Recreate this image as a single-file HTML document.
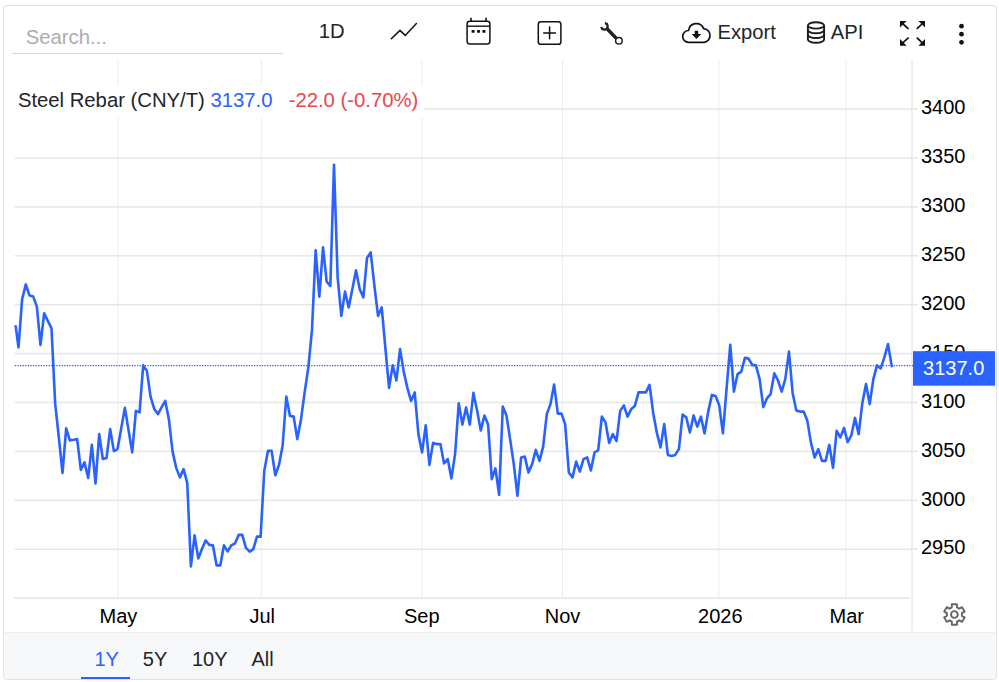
<!DOCTYPE html>
<html><head><meta charset="utf-8"><title>Steel Rebar</title>
<style>
html,body{margin:0;padding:0;background:#fff;}
body{width:999px;height:682px;position:relative;overflow:hidden;font-family:"Liberation Sans",sans-serif;font-size:20px;color:#212529;}
svg text{font-family:"Liberation Sans",sans-serif;}
.box{position:absolute;left:3px;top:5px;width:992px;height:673px;border:1px solid #dee2e6;border-radius:4px;background:#fff;}
.t{position:absolute;white-space:nowrap;line-height:1;}
.bar{position:absolute;left:4px;top:632px;width:992px;height:47px;background:#f7f8fa;border-top:1px solid #eceef1;box-sizing:border-box;border-radius:0 0 3px 3px;}
.ul{position:absolute;left:12px;top:53px;width:271px;height:1.3px;background:#d3d6d9;}
.ic{position:absolute;overflow:visible;}
</style></head><body>
<div class="box"></div>
<svg id="chart" width="999" height="682" viewBox="0 0 999 682" style="position:absolute;left:0;top:0">
<rect x="117.4" y="60" width="1" height="538" fill="#e9eef4"/>
<rect x="260.8" y="60" width="1" height="538" fill="#e9eef4"/>
<rect x="421.3" y="60" width="1" height="538" fill="#e9eef4"/>
<rect x="562.0" y="60" width="1" height="538" fill="#e9eef4"/>
<rect x="718.4" y="60" width="1" height="538" fill="#e9eef4"/>
<rect x="845.4" y="60" width="1" height="538" fill="#e9eef4"/>
<rect x="14.8" y="108.35" width="903.2" height="1.5" fill="#e6e6e6"/>
<rect x="14.8" y="157.25" width="903.2" height="1.5" fill="#e6e6e6"/>
<rect x="14.8" y="206.15" width="903.2" height="1.5" fill="#e6e6e6"/>
<rect x="14.8" y="255.05" width="903.2" height="1.5" fill="#e6e6e6"/>
<rect x="14.8" y="303.95" width="903.2" height="1.5" fill="#e6e6e6"/>
<rect x="14.8" y="352.85" width="903.2" height="1.5" fill="#e6e6e6"/>
<rect x="14.8" y="401.75" width="903.2" height="1.5" fill="#e6e6e6"/>
<rect x="14.8" y="450.65" width="903.2" height="1.5" fill="#e6e6e6"/>
<rect x="14.8" y="499.55" width="903.2" height="1.5" fill="#e6e6e6"/>
<rect x="14.8" y="548.45" width="903.2" height="1.5" fill="#e6e6e6"/>
<rect x="14" y="597.3" width="896.5" height="1.5" fill="#e4e4e4"/>
<rect x="911.4" y="60" width="1.3" height="571" fill="#e6e6e6"/>
<rect x="14" y="85" width="410" height="32.5" fill="#fff"/>
<line x1="14.8" y1="365.6" x2="913" y2="365.6" stroke="#2962ff" stroke-width="1.2" stroke-dasharray="1.3 1.3"/>
<polyline fill="none" stroke="#2962ff" stroke-width="2.6" stroke-linejoin="round" stroke-linecap="round" points="15.70,326.40 18.47,347.40 22.14,299.10 25.81,284.40 29.48,295.40 33.14,296.40 36.81,306.40 40.48,344.90 44.15,313.40 47.82,320.90 51.49,328.40 55.16,403.40 58.83,437.40 62.50,472.90 66.17,428.40 69.84,440.40 73.50,439.80 77.17,439.10 80.84,469.90 84.51,462.40 88.18,477.90 91.85,444.90 95.52,483.40 99.19,434.10 102.86,459.10 106.52,457.90 110.19,429.10 113.86,451.10 117.53,449.10 121.20,428.40 124.87,407.90 128.54,430.10 132.21,452.40 135.88,410.90 139.55,412.40 143.21,365.40 146.88,370.90 150.55,396.60 154.22,408.90 157.89,414.10 161.56,407.40 165.23,400.90 168.90,419.40 172.57,451.60 176.24,467.90 179.90,477.40 183.57,469.10 187.24,482.90 190.91,566.40 194.58,535.40 198.25,558.40 201.92,549.10 205.59,540.40 209.26,544.90 212.93,545.40 216.60,565.40 220.26,565.40 223.93,545.40 227.60,551.40 231.27,545.40 234.94,543.40 238.61,534.90 242.28,534.90 245.95,547.90 249.62,551.60 253.29,549.10 256.95,536.60 260.62,536.60 264.29,470.40 267.96,450.90 271.63,450.90 275.30,475.40 278.97,464.90 282.64,445.40 286.31,396.60 289.97,415.90 293.64,416.60 297.31,439.10 300.98,419.40 304.65,392.40 308.32,367.40 311.99,329.90 315.66,250.40 319.33,296.60 323.00,247.40 326.66,281.60 330.33,285.90 334.00,164.80 337.67,277.90 341.34,315.90 345.01,291.60 348.68,307.40 352.35,289.10 356.02,270.40 359.69,289.10 363.35,297.40 367.02,257.90 370.69,252.40 374.36,285.40 378.03,315.90 381.70,307.40 385.37,347.90 389.04,387.90 392.71,365.40 396.38,380.40 400.04,349.10 403.71,371.60 407.38,387.90 411.05,400.90 414.72,392.40 418.39,434.10 422.06,452.40 425.73,425.40 429.40,464.90 433.07,442.90 436.73,444.10 440.40,444.10 444.07,463.40 447.74,459.10 451.41,478.40 455.08,454.10 458.75,403.40 462.42,424.60 466.09,407.40 469.76,424.60 473.42,392.90 477.09,410.40 480.76,430.40 484.43,415.60 488.10,424.40 491.77,479.10 495.44,468.40 499.11,494.90 502.78,406.60 506.45,415.40 510.11,439.10 513.78,464.10 517.45,495.90 521.12,457.40 524.79,456.60 528.46,472.40 532.13,464.10 535.80,449.90 539.47,460.90 543.14,446.60 546.80,414.10 550.47,404.10 554.14,384.60 557.81,413.60 561.48,413.60 565.15,424.10 568.82,472.40 572.49,477.40 576.16,461.60 579.83,471.60 583.50,459.10 587.16,457.40 590.83,470.40 594.50,452.40 598.17,450.40 601.84,416.60 605.51,422.40 609.18,442.90 612.85,434.10 616.52,441.10 620.18,410.90 623.85,405.40 627.52,416.60 631.19,409.10 634.86,405.90 638.53,392.40 642.20,392.40 645.87,392.40 649.54,384.90 653.21,412.90 656.88,432.90 660.54,447.40 664.21,424.10 667.88,454.90 671.55,455.90 675.22,454.90 678.89,449.10 682.56,414.60 686.23,417.40 689.90,432.40 693.56,415.40 697.23,426.60 700.90,416.60 704.57,433.40 708.24,411.40 711.91,394.90 715.58,395.90 719.25,405.40 722.92,433.40 726.59,388.40 730.26,344.90 733.92,391.60 737.59,374.10 741.26,371.60 744.93,357.90 748.60,358.60 752.27,364.90 755.94,365.40 759.61,379.10 763.28,407.10 766.94,398.40 770.61,394.10 774.28,373.40 777.95,380.40 781.62,391.60 785.29,379.10 788.96,351.60 792.63,392.90 796.30,410.40 799.97,411.60 803.64,411.60 807.30,420.40 810.97,442.90 814.64,457.40 818.31,449.10 821.98,460.90 825.65,460.90 829.32,444.90 832.99,467.90 836.66,430.90 840.32,437.40 843.99,427.90 847.66,442.10 851.33,435.40 855.00,417.90 858.67,434.10 862.34,402.90 866.01,384.10 869.68,404.10 873.35,379.10 877.02,365.40 880.68,368.40 884.35,357.40 888.02,344.10 891.69,366.10"/>
<text x="921" y="114" font-size="20" fill="#000">3400</text>
<text x="921" y="163" font-size="20" fill="#000">3350</text>
<text x="921" y="212" font-size="20" fill="#000">3300</text>
<text x="921" y="261" font-size="20" fill="#000">3250</text>
<text x="921" y="310" font-size="20" fill="#000">3200</text>
<text x="921" y="359" font-size="20" fill="#000">3150</text>
<text x="921" y="408" font-size="20" fill="#000">3100</text>
<text x="921" y="457" font-size="20" fill="#000">3050</text>
<text x="921" y="506" font-size="20" fill="#000">3000</text>
<text x="921" y="554" font-size="20" fill="#000">2950</text>
<text x="118.4" y="623" font-size="20" fill="#000" text-anchor="middle">May</text>
<text x="262.3" y="623" font-size="20" fill="#000" text-anchor="middle">Jul</text>
<text x="421.8" y="623" font-size="20" fill="#000" text-anchor="middle">Sep</text>
<text x="562.6" y="623" font-size="20" fill="#000" text-anchor="middle">Nov</text>
<text x="720.3" y="623" font-size="20" fill="#000" text-anchor="middle">2026</text>
<text x="846.8" y="623" font-size="20" fill="#000" text-anchor="middle">Mar</text>
<rect x="913" y="351.2" width="82" height="34.5" fill="#2962ff"/>
<text x="923.1" y="374.5" font-size="20" fill="#fff">3137.0</text>
<path d="M957.00,607.36 L956.96,604.21 L951.84,604.21 L951.80,607.36 L949.51,608.68 L946.77,607.14 L944.21,611.58 L946.92,613.18 L946.92,615.82 L944.21,617.42 L946.77,621.86 L949.51,620.32 L951.80,621.64 L951.84,624.79 L956.96,624.79 L957.00,621.64 L959.29,620.32 L962.03,621.86 L964.59,617.42 L961.88,615.82 L961.88,613.18 L964.59,611.58 L962.03,607.14 L959.29,608.68Z" fill="none" stroke="#666" stroke-width="1.9" stroke-linejoin="round"/>
<circle cx="954.4" cy="614.5" r="3.4" fill="none" stroke="#666" stroke-width="1.9"/>
</svg>
<div class="bar"></div>
<div class="ul"></div>
<div class="t" style="left:25.7px;top:26.6px;color:#a9aeb3;font-size:20.3px">Search...</div>
<div class="t" style="left:318.8px;top:21.1px;font-size:20.3px">1D</div>
<div class="t" style="left:717.5px;top:22.4px;font-size:20.2px">Export</div>
<div class="t" style="left:830.8px;top:22.4px;font-size:20.2px">API</div>
<div class="t" style="left:17.9px;top:90.3px;color:#212529;font-size:20.27px;">Steel Rebar (CNY/T) <span style="color:#2962ff">3137.0</span> <span style="color:#e5484d;margin-left:10.6px">-22.0 (-0.70%)</span></div>
<div class="t" style="left:94.5px;top:649.3px;color:#2962ff;">1Y</div>
<div class="t" style="left:142.8px;top:649.3px;">5Y</div>
<div class="t" style="left:192px;top:649.3px;">10Y</div>
<div class="t" style="left:251.5px;top:649.3px;">All</div>
<div style="position:absolute;left:81px;top:676.6px;width:48.7px;height:2.6px;background:#2962ff;"></div>

<!-- icons -->
<svg class="ic" style="left:0;top:0" width="999" height="60" viewBox="0 0 999 60">
 <!-- line chart icon -->
 <polyline points="391.3,38.8 400,30.4 405.2,35.4 416.4,23.6" fill="none" stroke="#111" stroke-width="1.5" stroke-linecap="round" stroke-linejoin="round"/>
 <!-- calendar -->
 <rect x="467.1" y="21.3" width="22.8" height="22.6" rx="2.6" fill="none" stroke="#111" stroke-width="1.5"/>
 <line x1="467.1" y1="26.2" x2="489.9" y2="26.2" stroke="#111" stroke-width="1.4"/>
 <line x1="471" y1="17.8" x2="471" y2="21.3" stroke="#111" stroke-width="1.6"/>
 <line x1="486" y1="17.8" x2="486" y2="21.3" stroke="#111" stroke-width="1.6"/>
 <rect x="471.6" y="30.0" width="3" height="2.8" rx="0.6" fill="#111"/>
 <rect x="477.0" y="30.0" width="3" height="2.8" rx="0.6" fill="#111"/>
 <rect x="482.4" y="30.0" width="3" height="2.8" rx="0.6" fill="#111"/>
 <!-- plus square -->
 <rect x="538.3" y="21.7" width="22.6" height="22.6" rx="2.6" fill="none" stroke="#111" stroke-width="1.5"/>
 <line x1="543.7" y1="32.9" x2="555.5" y2="32.9" stroke="#111" stroke-width="1.5" stroke-linecap="round"/>
 <line x1="549.6" y1="27" x2="549.6" y2="38.8" stroke="#111" stroke-width="1.5" stroke-linecap="round"/>
 <!-- wrench -->
 <g>
  <line x1="606.6" y1="28.2" x2="616.6" y2="38.6" stroke="#1e2125" stroke-width="3.5" stroke-linecap="butt"/>
  <circle cx="618.9" cy="40.8" r="3.3" fill="#fff" stroke="#1e2125" stroke-width="1.5"/>
  <path d="M604.9,23.2 A3.2,3.2 0 1 1 601.3,27.0" fill="none" stroke="#1e2125" stroke-width="2.2" stroke-linecap="butt"/>
 </g>
 <!-- cloud download -->
 <path d="M688.6,42.3 A5.9,5.9 0 0 1 688.6,30.5 A7.8,7.8 0 0 1 703.6,28.6 A6.9,6.9 0 0 1 704.2,42.3 z" fill="none" stroke="#111" stroke-width="1.7" stroke-linejoin="round"/>
 <path d="M694.7,30.7 h3.5 v3.4 h3.1 l-4.85,4.8 l-4.85,-4.8 h3.1 z" fill="#111"/>
 <!-- database -->
 <g fill="none" stroke="#1a1a1a" stroke-width="1.9">
  <ellipse cx="816" cy="25.4" rx="8.1" ry="3.2"/>
  <path d="M807.9,25.4 v14.2 c0,1.8 3.6,3.2 8.1,3.2 s8.1,-1.4 8.1,-3.2 v-14.2"/>
  <path d="M807.9,30.1 c0,1.8 3.6,3.2 8.1,3.2 s8.1,-1.4 8.1,-3.2"/>
  <path d="M807.9,34.85 c0,1.8 3.6,3.2 8.1,3.2 s8.1,-1.4 8.1,-3.2"/>
 </g>
 <!-- fullscreen arrows -->
 <g stroke="#111" stroke-width="1.7" fill="#111" stroke-linecap="butt">
  <line x1="903" y1="24" x2="908.6" y2="28.9"/><path d="M900,21 h6.6 l-6.6,6.6 z" stroke="none"/>
  <line x1="922" y1="24" x2="916.8" y2="28.9"/><path d="M925,21 h-6.6 l6.6,6.6 z" stroke="none"/>
  <line x1="903" y1="42.7" x2="908.6" y2="37.6"/><path d="M900,45.7 h6.6 l-6.6,-6.6 z" stroke="none"/>
  <line x1="922" y1="42.7" x2="916.8" y2="37.6"/><path d="M925,45.7 h-6.6 l6.6,-6.6 z" stroke="none"/>
 </g>
 <!-- kebab -->
 <circle cx="961.5" cy="26.2" r="2.35" fill="#111"/>
 <circle cx="961.5" cy="34.2" r="2.35" fill="#111"/>
 <circle cx="961.5" cy="42.3" r="2.35" fill="#111"/>
</svg>
</body></html>
